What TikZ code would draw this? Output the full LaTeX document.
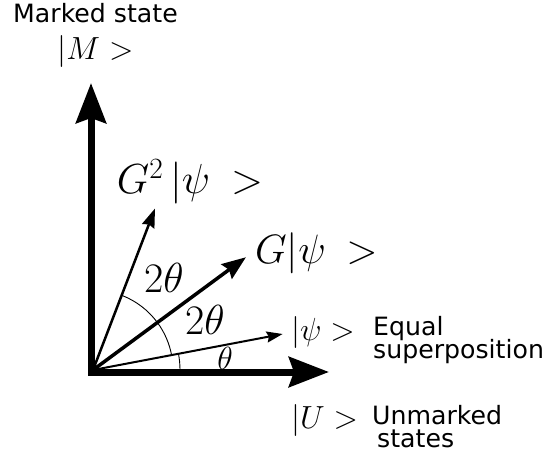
\RequirePackage{fix-cm}
\documentclass[tikz,border=0pt]{standalone}
\usepackage{fontspec}
\setsansfont{DejaVu Sans}
\usetikzlibrary{arrows.meta}
\newcommand{\tightlines}{\lineskiplimit -50pt\relax}
\tikzstyle{axis}=[line width=7pt, line join=miter, {Stealth[length=40pt,width=30pt,inset=5pt]}-{Stealth[length=40pt,width=30pt,inset=5pt]}]
\tikzstyle{rayA}=[line width=2pt, -{Stealth[length=16pt,width=11pt,inset=2pt]}]
\tikzstyle{rayB}=[line width=3.5pt, -{Stealth[length=24pt,width=18pt,inset=3pt]}]
\tikzstyle{rayC}=[line width=2.5pt, -{Stealth[length=19pt,width=13pt,inset=2pt]}]
\tikzstyle{ang}=[line width=0.9pt]
\tikzstyle{txt}=[inner sep=0, font={\sffamily\fontsize{25.2}{23}\selectfont\tightlines}, align=left]
\tikzstyle{big}=[inner sep=0, font=\fontsize{42}{46}\selectfont]
\tikzstyle{mid}=[inner sep=0, font=\fontsize{32}{36}\selectfont]

\begin{document}
\begin{tikzpicture}[x=1pt,y=1pt]
\useasboundingbox (-91,-88) rectangle (454,372);
\coordinate (c) at (0,0);
\coordinate (up) at (0,289);
\coordinate (right) at (238,0);
\coordinate (o) at (2,2);
\coordinate (psi) at ([shift={(10.75:193)}]o);
\coordinate (gpsi) at ([shift={(36.4:190)}]o);
\coordinate (ggpsi) at ([shift={(69:173)}]o);
\draw[axis] (up)--(c)--(right);
\draw[rayA] (o)--(psi);
\draw[rayB] (o)--(gpsi);
\draw[rayC] (o)--(ggpsi);
% angle marks
\draw[ang] ([shift={(0:87)}]o) arc[start angle=0, end angle=10.75, radius=87];
\draw[ang] ([shift={(10.75:80)}]o) arc[start angle=10.75, end angle=36.4, radius=80];
\draw[ang] ([shift={(36.4:80)}]o) arc[start angle=36.4, end angle=69, radius=80];
% labels
\node at (-78,349) [txt, anchor=base west](marked){Marked state};
\node at (4.5,320) [mid](mket){$|M>$};
\node at (99,190) [big](g2ket){$G^2\,|\psi\:>$};
\node at (164,119) [big, font=\fontsize{41}{46}\selectfont, anchor=west](gket){$G|\psi\:>$};
\node at (73,94) [big](a2){$2\theta$};
\node at (114,52) [big](a1){$2\theta$};
\node at (134,14) [mid](a0){$\theta$};
\node at (200,40) [mid, anchor=west](psiket){$|\psi>$};
\node at (282,14) [txt, anchor=base west](equal){Equal\\superposition};
\node at (200,-48) [mid, anchor=west](uket){$|U>$};
\node at (281,-75) [txt, anchor=base west](unmarked){Unmarked\\\hspace*{5pt}states};
\end{tikzpicture}
\end{document}
